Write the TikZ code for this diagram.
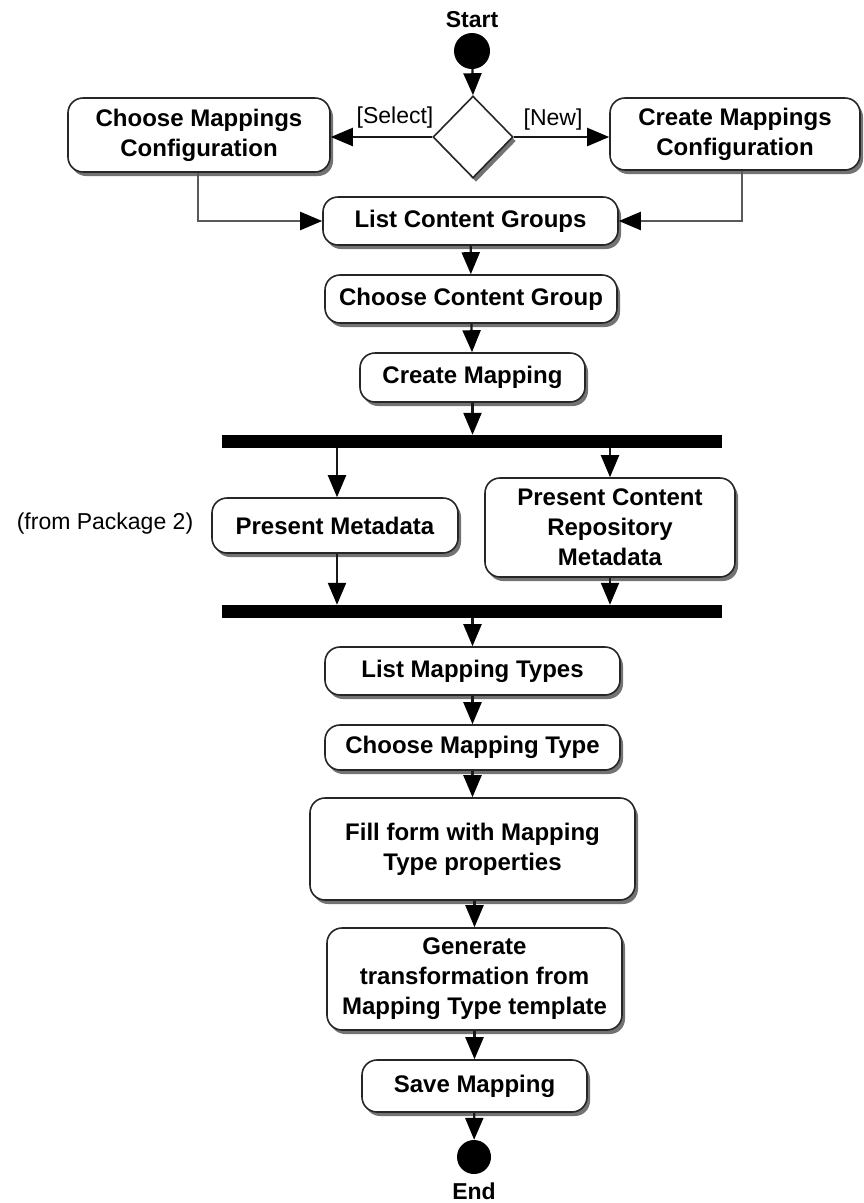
\documentclass[tikz,border=0pt]{standalone}
\usepackage{fontspec}
\setmainfont{Liberation Sans}
\usetikzlibrary{arrows.meta,shapes.geometric,shadows}
\begin{document}
\begin{tikzpicture}[x=1pt,y=-1pt,
  shade box/.style={drop shadow={shadow xshift=3pt,shadow yshift=-4pt,fill=black!55,opacity=1}},
  act/.style={draw=black!85,line width=1.6pt,fill=white,rounded corners=15pt,
    align=center,inner sep=0pt,font=\fontsize{24}{30}\selectfont\bfseries,shade box},
  decision/.style={diamond,draw=black!85,line width=1.6pt,fill=white,inner sep=0pt,
    minimum width=80pt,minimum height=82pt,shade box},
  syncbar/.style={rectangle,fill=black,inner sep=0pt,minimum width=500pt,minimum height=13pt},
  dot/.style={circle,fill=black,inner sep=0pt},
  bold label/.style={font=\fontsize{23}{28}\selectfont\bfseries},
  plain label/.style={font=\fontsize{23}{28}\selectfont},
  tip/.style={-{Triangle[length=22pt,width=18pt,color=black]}},
  arr/.style={line width=2.2pt,draw=black!90,tip},
  link/.style={line width=2.2pt,draw=black!65,tip}
]
\useasboundingbox (0,0) rectangle (863,1203);

% start and first decision
\node[bold label] (startlbl) at (472,20) {Start};
\node[dot,minimum size=36pt] (start) at (472,51) {};
\node[decision] (dec) at (473,137) {};

% configuration choice
\node[act,minimum width=262pt,minimum height=74pt] (choosecfg) at (199,135) {Choose Mappings\\Configuration};
\node[act,minimum width=250pt,minimum height=72pt] (createcfg) at (735,134) {Create Mappings\\Configuration};
\node[plain label] (sel) at (395,118) {[Select]};
\node[plain label] (new) at (553,120) {[New]};

% content groups
\node[act,minimum width=295pt,minimum height=48pt] (listcg) at (470.5,221) {List Content Groups};
\node[act,minimum width=292pt,minimum height=48pt] (choosecg) at (471,299) {Choose Content Group};
\node[act,minimum width=225pt,minimum height=49pt] (createmap) at (472.5,377.5) {Create Mapping};

% fork / join
\node[syncbar] (fork) at (472,441.5) {};
\node[act,minimum width=246pt,minimum height=55pt] (pmeta) at (335,525.5) {Present Metadata};
\node[act,minimum width=250pt,minimum height=99pt] (pcrm) at (610,527.5) {Present Content\\Repository\\Metadata};
\node[plain label] (pkg) at (105,524) {(from Package 2)};
\node[syncbar] (join) at (472,611.5) {};

% mapping type steps
\node[act,minimum width=295pt,minimum height=48pt] (listmt) at (472.5,671) {List Mapping Types};
\node[act,minimum width=295pt,minimum height=45pt] (choosemt) at (472.5,747.5) {Choose Mapping Type};
\node[act,minimum width=325pt,minimum height=102pt] (fill) at (472.5,849) {Fill form with Mapping\\Type properties};
\node[act,minimum width=295pt,minimum height=102pt] (gen) at (474.5,979) {Generate\\transformation from\\Mapping Type template};
\node[act,minimum width=225pt,minimum height=52pt] (save) at (474.5,1086) {Save Mapping};

% end
\node[dot,minimum size=34pt] (end) at (474,1157) {};
\node[bold label] (endlbl) at (474,1191) {End};

% connectors
\draw[arr] (start) -- (dec.north);
\draw[arr] (dec.west) -- (dec.west -| choosecfg.east);
\draw[arr] (dec.east) -- (dec.east -| createcfg.west);
\draw[link] ([xshift=-1pt]choosecfg.south) |- (listcg.west);
\draw[link] ([xshift=7pt]createcfg.south) |- (listcg.east);
\draw[arr] (listcg) -- (choosecg);
\draw[arr] (choosecg) -- (createmap);
\draw[arr] (createmap) -- (createmap.south |- fork.north);
\draw[arr] ([xshift=2pt]pmeta.north |- fork.south) -- ([xshift=2pt]pmeta.north);
\draw[arr] (pcrm.north |- fork.south) -- (pcrm.north);
\draw[arr] ([xshift=2pt]pmeta.south) -- ([xshift=2pt]pmeta.south |- join.north);
\draw[arr] (pcrm.south) -- (pcrm.south |- join.north);
\draw[arr] (listmt.north |- join.south) -- (listmt.north);
\draw[arr] (listmt) -- (choosemt);
\draw[arr] (choosemt) -- (fill);
\draw[arr] (fill.south -| gen.north) -- (gen.north);
\draw[arr] (gen) -- (save);
\draw[arr] (save) -- (end);
\end{tikzpicture}
\end{document}
